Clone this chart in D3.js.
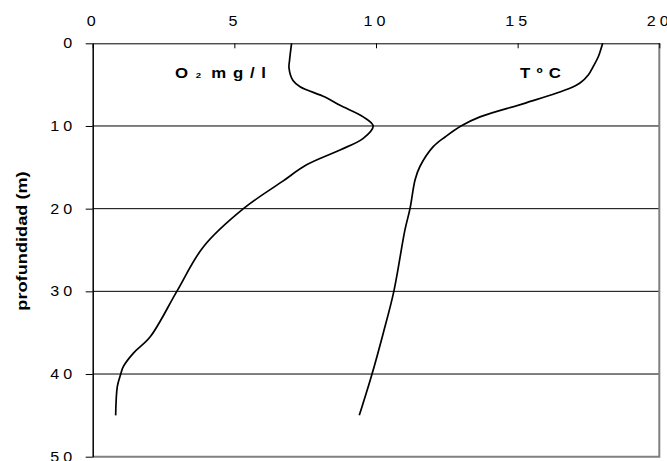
<!DOCTYPE html>
<html lang="es">
<head>
<meta charset="UTF-8">
<title>Perfil O2 y temperatura</title>
<script src="https://d3js.org/d3.v7.min.js"></script>
<style>
    body { margin: 0; background: #fff; }
    text { font-family: "Liberation Sans", Arial, sans-serif; fill: #000; }
    .tick text { font-size: 14px; }
    .domain { stroke: #000; }
    .serie { font-size: 14px; font-weight: bold; }
</style>
</head>
<body>
<script>
    // profundidad (m) y valores
    const o2Depth  = [0, 2, 3, 4.5, 5.25, 6.5, 7.5, 8.9, 10, 11.5, 12.9, 14.7, 16.7, 20, 24.6, 30, 35.5, 37.5, 39.1, 40, 41.5, 45];
    const o2Values = [7.02, 6.95, 6.93, 7.07, 7.32, 8.2, 8.73, 9.55, 9.9, 9.55, 8.73, 7.55, 6.7, 5.32, 3.91, 2.97, 2.03, 1.43, 1.08, 0.99, 0.87, 0.81];

    const tDepth  = [0, 1.6, 2.8, 3.8, 4.8, 5.5, 7.2, 8.9, 10, 11.3, 12.5, 14.9, 16.5, 20, 22.6, 30, 35, 40, 45];
    const tValues = [18.0, 17.85, 17.67, 17.5, 17.2, 16.8, 15.3, 13.67, 13.0, 12.45, 12.02, 11.55, 11.38, 11.2, 11.02, 10.63, 10.26, 9.86, 9.41];

    const xTicks = [0, 5, 10, 15, 20];
    const yTicks = [0, 10, 20, 30, 40, 50];

    const width = 667, height = 461;
    const plotLeft = 92.7, plotRight = 659.3, plotTop = 43.3, plotBottom = 456.7;
    const stretch = 1.15; // el texto original sale ensanchado
    const gap = 3.6;      // espacio extra entre cifras

    const svg = d3.select("body").append("svg")
        .attr("width", width)
        .attr("height", height);

    const x = d3.scaleLinear().domain([0, 20]).range([plotLeft, plotRight]);
    const y = d3.scaleLinear().domain([0, 50]).range([plotTop, plotBottom]);

    // separa las cifras como en el original
    function spread(sel) {
        sel.each(function () {
            const n = this.textContent.length;
            if (n > 1) {
                const w = this.getComputedTextLength();
                d3.select(this)
                    .attr("textLength", w + gap * (n - 1))
                    .attr("lengthAdjust", "spacing");
            }
        });
    }

    // lineas horizontales
    svg.append("g")
        .selectAll("line")
        .data(yTicks.filter(d => d > 0 && d < 50))
        .enter()
        .append("line")
        .attr("x1", x(0))
        .attr("x2", x(20))
        .attr("y1", d => y(d))
        .attr("y2", d => y(d))
        .attr("stroke", "#000")
        .attr("stroke-width", 1);

    // borde derecho e inferior
    svg.append("path")
        .attr("d", `M${x(0)},${y(50)}H${x(20)}V${y(0)}`)
        .attr("fill", "none")
        .attr("stroke", "#808080")
        .attr("stroke-width", 2);

    // eje superior
    const xAxis = svg.append("g")
        .attr("transform", `translate(0,${plotTop})`)
        .call(d3.axisTop(x).tickValues(xTicks).tickSizeInner(-5).tickSizeOuter(0).tickPadding(17));
    xAxis.selectAll(".tick line").attr("stroke", "#000");
    xAxis.selectAll(".tick text")
        .call(spread)
        .attr("x", -2 / stretch)
        .attr("transform", `scale(${stretch},1)`);

    // eje izquierdo
    const yAxis = svg.append("g")
        .attr("transform", `translate(${plotLeft},0)`)
        .call(d3.axisLeft(y).tickValues(yTicks).tickSizeInner(7).tickSizeOuter(0).tickPadding(12));
    yAxis.select(".domain").attr("stroke-width", 1.5);
    yAxis.selectAll(".tick text")
        .call(spread)
        .attr("x", (72.2 - plotLeft) / stretch)
        .attr("transform", `scale(${stretch},1)`);

    // titulo eje y
    svg.append("g")
        .attr("transform", `translate(27,241) rotate(-90) scale(1.3,1)`)
        .append("text")
        .attr("text-anchor", "middle")
        .style("font-size", "14px")
        .style("font-weight", "bold")
        .text("profundidad (m)");

    // curvas
    const line = d3.line()
        .x(d => x(d[1]))
        .y(d => y(d[0]))
        .curve(d3.curveCatmullRom.alpha(0.5));

    svg.append("path")
        .datum(d3.zip(o2Depth, o2Values))
        .attr("d", line)
        .attr("fill", "none")
        .attr("stroke", "#000")
        .attr("stroke-width", 1.7);

    svg.append("path")
        .datum(d3.zip(tDepth, tValues))
        .attr("d", line)
        .attr("fill", "none")
        .attr("stroke", "#000")
        .attr("stroke-width", 1.7);

    // etiquetas de series
    const o2Label = svg.append("g")
        .attr("transform", `translate(175,78) scale(1.2,1)`);
    o2Label.append("text").attr("class", "serie").text("O");
    o2Label.append("text").attr("class", "serie").attr("x", 17.2)
        .style("font-size", "8px").text("2");
    o2Label.append("text").attr("class", "serie").attr("x", 30.2)
        .attr("textLength", 45.6).attr("lengthAdjust", "spacing").text("mg/l");

    svg.append("g")
        .attr("transform", `translate(520,78) scale(1.2,1)`)
        .append("text")
        .attr("class", "serie")
        .attr("textLength", 34).attr("lengthAdjust", "spacing")
        .text("TºC");
</script>
</body>
</html>
